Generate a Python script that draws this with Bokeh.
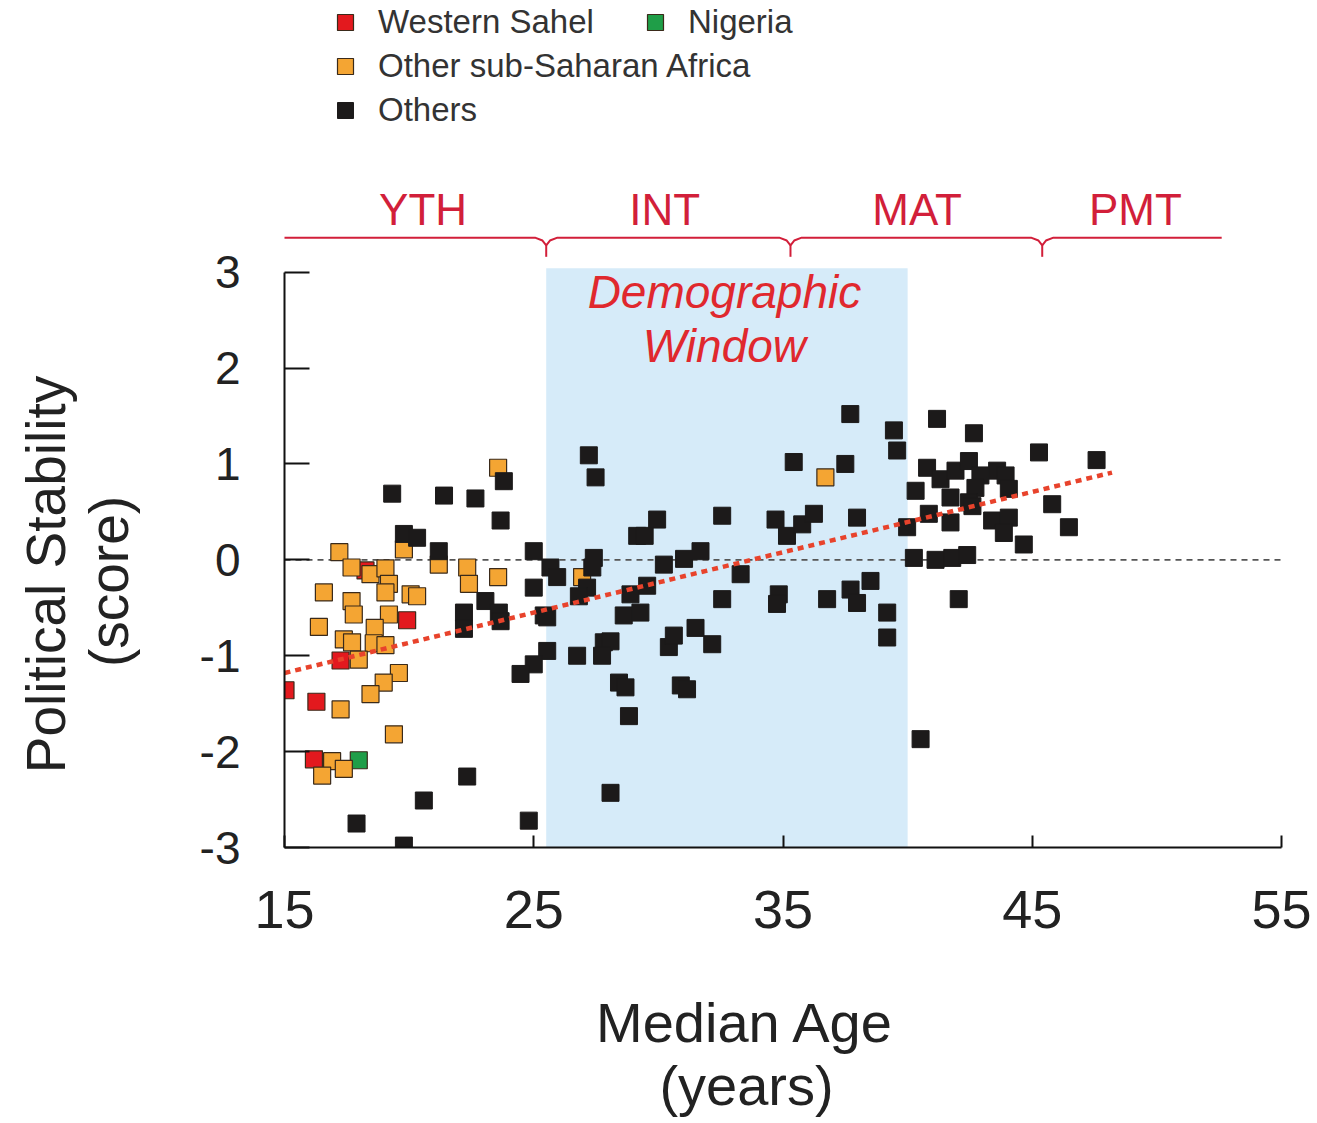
import math
from bokeh.plotting import figure
from bokeh.layouts import column, row
from bokeh.models import Range1d, Legend, LegendItem, FixedTicker
from bokeh.core.properties import value
from bokeh.embed import file_html
from bokeh.resources import INLINE

# ---------------- data ----------------
sahel_x = [18.25, 19.92, 17.25, 15.04, 16.28, 16.18]
sahel_y = [-0.11, -0.63, -1.05, -1.36, -1.48, -2.08]

nigeria_x = [17.98]
nigeria_y = [-2.09]

ssa_x = [23.57, 17.2, 17.69, 18.45, 19.05, 19.19, 19.05, 19.79, 21.19, 16.58,
         17.69, 17.78, 19.19, 20.06, 20.32, 22.33, 22.4, 23.57, 16.38, 18.62,
         17.38, 17.71, 18.58, 19.05, 17.98, 19.59, 18.98, 18.45, 17.25, 19.39,
         16.91, 17.38, 16.51, 36.7, 26.94]
ssa_y = [0.96, 0.08, -0.08, -0.15, -0.09, -0.25, -0.34, 0.11, -0.05, -0.34,
         -0.43, -0.57, -0.57, -0.36, -0.38, -0.08, -0.25, -0.18, -0.70, -0.71,
         -0.83, -0.86, -0.87, -0.89, -1.04, -1.18, -1.28, -1.40, -1.56, -1.82,
         -2.10, -2.18, -2.25, 0.86, -0.18]

others_x = [19.32, 21.4, 22.66, 23.8, 23.67, 19.79, 20.32, 21.19, 25.0, 25.0,
            23.06, 23.6, 22.2, 22.2, 23.67, 25.4, 25.54, 25.0, 24.47, 22.33,
            20.59, 17.89, 24.8, 19.79,
            27.21, 27.48, 29.95, 29.15, 29.45, 32.56, 34.7, 35.16, 35.77, 36.24,
            35.43, 37.5, 37.97, 39.45, 39.58, 37.7, 39.98, 40.25, 25.67, 25.94,
            27.41, 27.35, 27.14, 26.81, 25.54, 28.88, 29.55, 28.61, 29.28, 30.22,
            31.03, 31.69, 33.3, 32.56, 34.83, 34.76, 36.77, 37.71, 37.97, 38.51,
            39.18, 39.18, 26.74, 27.81, 28.08, 27.74, 30.42, 30.62, 31.49, 32.16,
            28.42, 28.68, 30.9, 31.15, 28.82, 28.08, 40.52,
            41.18, 42.66, 45.27, 47.58, 40.78, 41.32, 41.92, 42.46, 42.92, 43.59,
            43.93, 44.06, 42.72, 40.32, 41.72, 42.46, 42.6, 40.85, 41.72, 43.39,
            44.06, 43.86, 44.66, 45.8, 46.47, 41.12, 41.79, 42.39, 42.05]
others_y = [0.69, 0.67, 0.64, 0.82, 0.41, 0.27, 0.23, 0.09, 0.09, -0.29,
            -0.43, -0.55, -0.55, -0.72, -0.64, -0.58, -0.95, -1.09, -1.19, -2.26,
            -2.51, -2.75, -2.72, -2.98,
            1.09, 0.86, 0.42, 0.25, 0.25, 0.46, 0.42, 0.25, 0.37, 0.48,
            1.02, 1.0, 0.44, 1.35, 1.14, 1.52, 0.34, 0.02, -0.08, -0.18,
            0.02, -0.08, -0.29, -0.38, -0.60, -0.36, -0.27, -0.58, -0.55, -0.05,
            0.01, 0.09, -0.15, -0.41, -0.36, -0.46, -0.41, -0.31, -0.45, -0.22,
            -0.55, -0.81, -1.0, -0.86, -0.85, -1.0, -0.91, -0.79, -0.71, -0.88,
            -1.28, -1.33, -1.31, -1.35, -1.63, -2.43, -1.87,
            1.47, 1.32, 1.12, 1.04, 0.96, 0.84, 0.93, 1.03, 0.88, 0.93,
            0.88, 0.74, 0.75, 0.72, 0.65, 0.60, 0.56, 0.48, 0.39, 0.41,
            0.44, 0.28, 0.16, 0.58, 0.34, 0.0, 0.02, 0.05, -0.41]

trend_x = [15.0, 48.2]
trend_y = [-1.18, 0.91]

window_start, window_end = 25.5, 40.0
stage_names = ["YTH", "INT", "MAT", "PMT"]
stage_bounds = [25.5, 35.3, 45.4]

x_ticks = [15, 25, 35, 45, 55]
y_ticks = [-3, -2, -1, 0, 1, 2, 3]

x_title = ["Median Age", "(years)"]
y_title = ["Political Stability", "(score)"]

FONT = "Liberation Sans"
RED_TXT = "#d21f3a"
AX_TXT = "#222222"

W, H = 1317, 1123
YLAB_W = 180          # strip holding the y-axis title
MAIN_H = 960          # height of the main plot (incl. x tick labels)
FRAME_H = 847         # height of the main plotting frame


def blank_fig(width, height, frame_h):
    f = figure(width=width, height=height, output_backend="svg",
               toolbar_location=None, x_axis_type=None, y_axis_type=None,
               x_range=Range1d(0, width), y_range=Range1d(0, frame_h),
               min_border=0, min_border_left=0, min_border_right=0,
               min_border_top=0, min_border_bottom=height - frame_h)
    f.outline_line_color = None
    f.xgrid.visible = False
    f.ygrid.visible = False
    return f


# ---------------- main figure ----------------
p = figure(width=W - YLAB_W, height=MAIN_H, output_backend="svg",
           toolbar_location=None,
           x_range=Range1d(15, 56.444), y_range=Range1d(-3, 5.833),
           min_border_left=284 - YLAB_W, min_border_right=0, min_border_top=0,
           min_border_bottom=MAIN_H - FRAME_H)
p.outline_line_color = None
p.xgrid.visible = False
p.ygrid.visible = False

# demographic window shading
p.quad(left=[window_start], right=[window_end], bottom=[-3], top=[3.04],
       fill_color="#d6ebf9", line_color=None, level="underlay")

# zero line
p.line(x=[15, 55], y=[0, 0], line_color="#555555", line_width=1.6,
       line_dash="6 5")

# points
r_ws = p.scatter(sahel_x, sahel_y, marker="square", size=17,
                 fill_color="#e3191e", line_color="#3a2a1a", line_width=1.2)
r_ng = p.scatter(nigeria_x, nigeria_y, marker="square", size=17,
                 fill_color="#1f9e48", line_color="#3a2a1a", line_width=1.2)
r_ssa = p.scatter(ssa_x, ssa_y, marker="square", size=17,
                  fill_color="#f4a533", line_color="#3a2a1a", line_width=1.2)
r_oth = p.scatter(others_x, others_y, marker="square", size=17,
                  fill_color="#1c1a1a", line_color="#1c1a1a", line_width=1)

# trend line
p.line(trend_x, trend_y, line_color="#e8432c", line_width=4.5, line_dash="6 5")

# stage bracket
bx, by = [14.84], [3.36]
for c in stage_bounds:
    bx += [c - 0.45, c - 0.15, c, c + 0.15, c + 0.45]
    by += [3.36, 3.33, 3.28, 3.33, 3.36]
bx.append(52.6)
by.append(3.36)
p.line(bx, by, line_color=RED_TXT, line_width=2)
p.segment(x0=stage_bounds, y0=[3.28] * 3, x1=stage_bounds, y1=[3.16] * 3,
          line_color=RED_TXT, line_width=2)
p.text(x=[20.56, 30.25, 40.38, 49.14], y=[3.655] * 4, text=stage_names,
       text_font=value(FONT), text_font_size="44px", text_color=RED_TXT,
       text_align="center", text_baseline="middle")

# Demographic window label
p.text(x=[32.65, 32.65], y=[2.79, 2.225], text=["Demographic", "Window"],
       text_font=value(FONT), text_font_size="46px", text_font_style="italic",
       text_color="#e0282e", text_align="center", text_baseline="middle")

# ---------------- axes ----------------
xa = p.xaxis[0]
xa.bounds = (15, 55)
xa.ticker = FixedTicker(ticks=x_ticks)
xa.minor_tick_line_color = None
xa.major_tick_in = 12
xa.major_tick_out = 0
xa.axis_line_width = 2
xa.major_tick_line_width = 2
xa.axis_line_color = "#111111"
xa.major_tick_line_color = "#111111"
xa.major_label_text_font = FONT
xa.major_label_text_font_size = "54px"
xa.major_label_text_color = AX_TXT
xa.major_label_standoff = 43

ya = p.yaxis[0]
ya.bounds = (-3, 3)
ya.ticker = FixedTicker(ticks=y_ticks)
ya.major_label_overrides = {t: str(t) for t in y_ticks}
ya.minor_tick_line_color = None
ya.major_tick_in = 25
ya.major_tick_out = 0
ya.axis_line_width = 2
ya.major_tick_line_width = 2
ya.axis_line_color = "#111111"
ya.major_tick_line_color = "#111111"
ya.major_label_text_font = FONT
ya.major_label_text_font_size = "46px"
ya.major_label_text_color = AX_TXT
ya.major_label_standoff = 44

# ---------------- legends ----------------
leg_common = dict(border_line_color=None, background_fill_alpha=0, padding=0,
                  margin=0, spacing=4, glyph_width=40, glyph_height=40,
                  label_standoff=13, label_text_font=FONT,
                  label_text_font_size="33px", label_text_color="#333333",
                  label_height=40)
leg1 = Legend(items=[LegendItem(label="Western Sahel", renderers=[r_ws]),
                     LegendItem(label="Other sub-Saharan Africa", renderers=[r_ssa]),
                     LegendItem(label="Others", renderers=[r_oth])],
              location=(41, 717), orientation="vertical", **leg_common)
leg2 = Legend(items=[LegendItem(label="Nigeria", renderers=[r_ng])],
              location=(351, 805), orientation="vertical", **leg_common)
p.add_layout(leg1)
p.add_layout(leg2)

# ---------------- y-axis title strip (left) ----------------
yl = blank_fig(YLAB_W, MAIN_H, FRAME_H)
yl.text(x=[45, 108], y=[FRAME_H - 574, FRAME_H - 581], text=y_title,
        angle=math.pi / 2, text_font=value(FONT), text_font_size="55px",
        text_color=AX_TXT, text_align="center", text_baseline="middle")

# ---------------- x-axis title strip (bottom) ----------------
xl = blank_fig(W, H - MAIN_H, H - MAIN_H)
xl.text(x=[745, 746], y=[H - 1021.5, H - 1085], text=x_title,
        text_font=value(FONT), text_font_size="56px",
        text_color=AX_TXT, text_align="center", text_baseline="middle")

layout = column(row(yl, p, spacing=0), xl, spacing=0)

open("out.html", "w").write(file_html(layout, INLINE))
